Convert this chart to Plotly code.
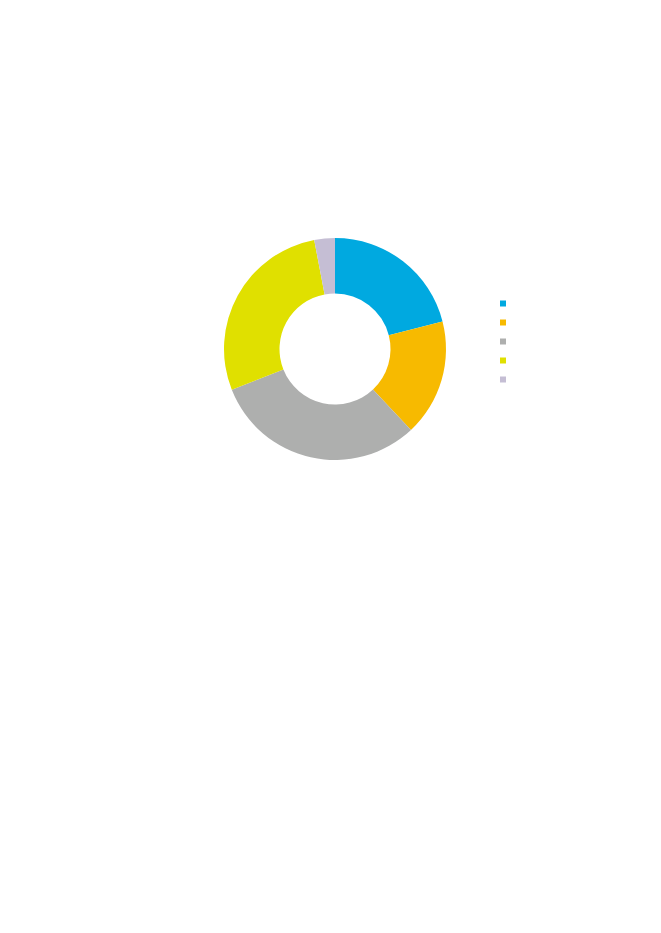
import plotly.graph_objects as go

labels = [" ", "  ", "   ", "    ", "     "]
values = [21, 17, 31, 28, 3]
colors = ["#00A9E0", "#F7BA00", "#AEAFAE", "#E0E000", "#C5BED4"]

W, H = 661, 933
# page body has an 8px margin, so positions are shifted back by 8
cx, cy, r = 327, 341, 111

fig = go.Figure()
fig.add_trace(go.Pie(
    labels=labels, values=values, sort=False, direction="clockwise",
    rotation=0, hole=0.5, textinfo="none", hoverinfo="none",
    marker=dict(colors=colors, line=dict(width=0)),
    showlegend=False,
    domain=dict(x=[(cx - r) / W, (cx + r) / W], y=[1 - (cy + r) / H, 1 - (cy - r) / H]),
))

# legend: small squares, no text
for lab, col in zip(labels, colors):
    fig.add_trace(go.Scatter(
        x=[None], y=[None], mode="markers", name=lab,
        marker=dict(symbol="square", size=6, color=col),
    ))

fig.update_layout(
    width=W, height=H, margin=dict(l=0, r=0, t=0, b=0),
    paper_bgcolor="white", plot_bgcolor="white",
    xaxis=dict(visible=False), yaxis=dict(visible=False),
    legend=dict(x=475 / W, y=1 - 281 / H, xanchor="left", yanchor="top",
                font=dict(size=8, family="Liberation Sans"), itemwidth=30,
                bgcolor="rgba(0,0,0,0)", tracegroupgap=0),
)

fig.write_html("out.html")
